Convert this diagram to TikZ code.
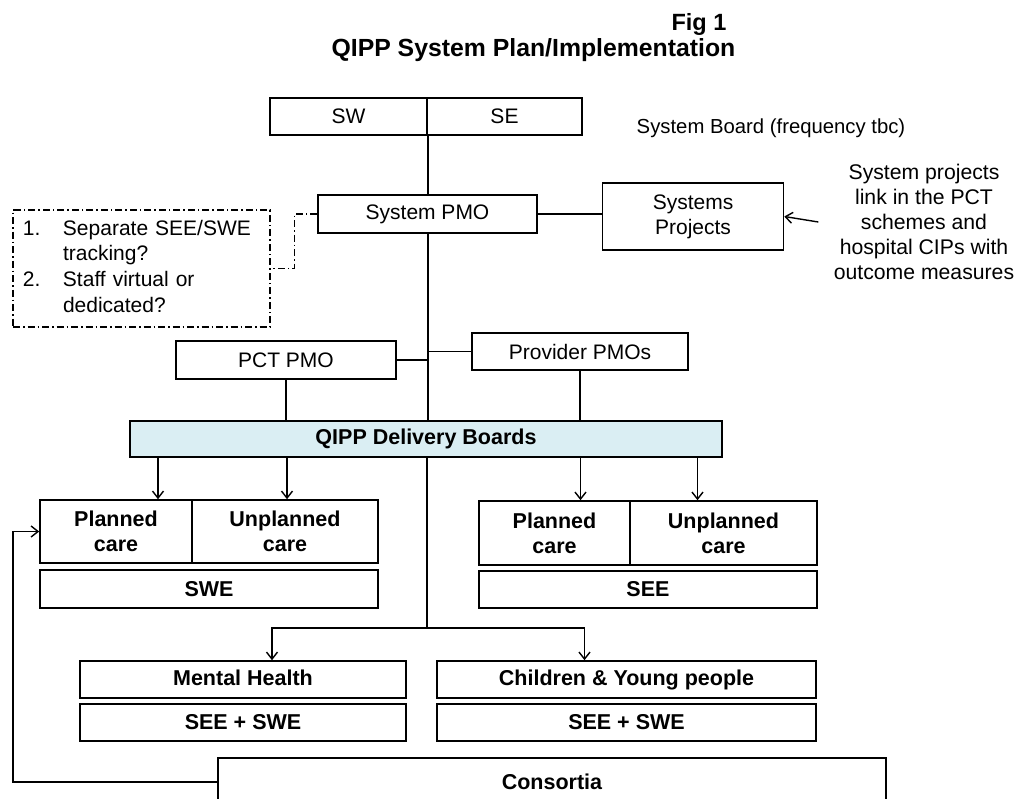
\documentclass[tikz,border=0pt]{standalone}
\usepackage{fontspec}
\setmainfont{Liberation Sans}
\usetikzlibrary{arrows.meta,positioning,calc}
\definecolor{boardblue}{RGB}{218,238,243}
\tikzset{>={Straight Barb[length=7pt,width=11pt]}}
\tikzset{box/.style={draw, line width=1.6pt, inner sep=0pt, align=center,
    font=\fontsize{21}{25}\selectfont}}
\tikzset{bbox/.style={box, font=\fontsize{21.5}{25}\selectfont\bfseries}}
\tikzset{oneline/.style={text height=2.1ex, text depth=0pt}}
\tikzset{link/.style={line width=1.4pt}}
\tikzset{noteline/.style={line width=1.4pt,
    dash pattern=on 7pt off 3pt on 1.5pt off 3pt}}

\begin{document}
\begin{tikzpicture}[x=1pt,y=-1pt]
  \clip (0,0) rectangle (1017,798);
  \fill[white] (0,0) rectangle (1017,798);

  \node[font=\fontsize{23.5}{26}\selectfont\bfseries] (fig) at (699,24) {Fig 1};
  \node[font=\fontsize{24.8}{28}\selectfont\bfseries] (title) at (533.5,50)
  {QIPP System Plan/Implementation};

  % system level
  \node[box, minimum width=157, minimum height=37] (sw) at (348.5,116.5) {SW};
  \node[box, minimum width=155, minimum height=37] (se) at (504.5,116.5) {SE};
  \node[font=\fontsize{20.3}{25}\selectfont] (board) at (771,128)
  {System Board (frequency tbc)};
  \node[box, minimum width=219, minimum height=38] (pmo) at (427.5,214) {System PMO};
  \node[box, minimum width=181, minimum height=67] (sysproj) at (693,216.5)
  {Systems\\Projects};
  \node[font=\fontsize{21.2}{25}\selectfont, align=center] (linktxt) at (924,222)
  {System projects\\link in the PCT\\schemes and\\hospital CIPs with\\outcome measures};
  \node[draw, noteline, minimum height=117, text width=237pt, inner xsep=10pt,
    align=left, font=\fontsize{21}{25.7}\selectfont] (note) at (141.5,268.5)
  {\begin{tabular}{@{}p{40pt}@{}l@{}}
    1.&Separate SEE/SWE\\
      &tracking?\\
    2.&Staff virtual or\\
      &dedicated?
  \end{tabular}};

  \node[box, minimum width=220, minimum height=38] (pct) at (286,360) {PCT PMO};
  \node[box, minimum width=216, minimum height=37] (prov) at (580,351.5) {Provider PMOs};
  \node[bbox, fill=boardblue, minimum width=592, minimum height=36] (qipp) at (426,439)
  {QIPP Delivery Boards};

  % care boards
  \node[bbox, minimum width=152, minimum height=63] (plan1) at (116,531.5) {Planned\\care};
  \node[bbox, minimum width=186, minimum height=63] (unplan1) at (285,531.5) {Unplanned\\care};
  \node[bbox, minimum width=338, minimum height=38] (swe) at (209,589) {SWE};
  \node[bbox, minimum width=151, minimum height=64] (plan2) at (554.5,533) {Planned\\care};
  \node[bbox, minimum width=187, minimum height=64] (unplan2) at (723.5,533) {Unplanned\\care};
  \node[bbox, minimum width=338, minimum height=37] (see) at (648,589.5) {SEE};

  \node[bbox, oneline, minimum width=326, minimum height=37] (mh) at (243,679.5) {Mental Health};
  \node[bbox, minimum width=326, minimum height=37] (mhsub) at (243,722.5) {SEE + SWE};
  \node[bbox, oneline, minimum width=379, minimum height=37] (cyp) at (626.5,679.5)
  {Children \& Young people};
  \node[bbox, minimum width=379, minimum height=37] (cypsub) at (626.5,722.5) {SEE + SWE};
  \node[bbox, minimum width=668, minimum height=48] (cons) at (552,782) {Consortia};

  \coordinate (split) at (427,628);
  \coordinate (loop) at (13,531.5);

  % connectors
  \draw[link] (sw.south east) -- (pmo.north -| sw.south east);
  \draw[link] (pmo.east) -- (pmo.east -| sysproj.west);
  \draw[link,->] ([xshift=-12pt]linktxt.west) -- (sysproj.east);
  \draw[noteline] (pmo.west) -- ++(-23,0) |- (note.east);
  \draw[link] (pmo.south -| sw.south east) -- (qipp.north -| sw.south east);
  \draw[link] (pct.east) -- (pct.east -| sw.south east);
  \draw[link] (prov.west) -- (prov.west -| sw.south east);
  \draw[link] (pct.south) -- (pct.south |- qipp.north);
  \draw[link] (prov.south) -- (prov.south |- qipp.north);
  \draw[link,->] (qipp.south -| plan1.north) ++(42,0) -- ([xshift=42pt]plan1.north);
  \draw[link,->] (qipp.south -| unplan1.north) ++(2,0) -- ([xshift=2pt]unplan1.north);
  \draw[link,->] (qipp.south -| plan2.north) ++(26,0) -- ([xshift=26pt]plan2.north);
  \draw[link,->] (qipp.south -| unplan2.north) ++(-26,0) -- ([xshift=-26pt]unplan2.north);
  \draw[link] (qipp.south -| split) -- (split);
  \draw[link,->] (split) -| ([xshift=29pt]mh.north);
  \draw[link,->] (split) -| ([xshift=-42pt]cyp.north);
  \draw[link,->] (cons.west) -| (loop) -- (plan1.west);
\end{tikzpicture}
\end{document}
